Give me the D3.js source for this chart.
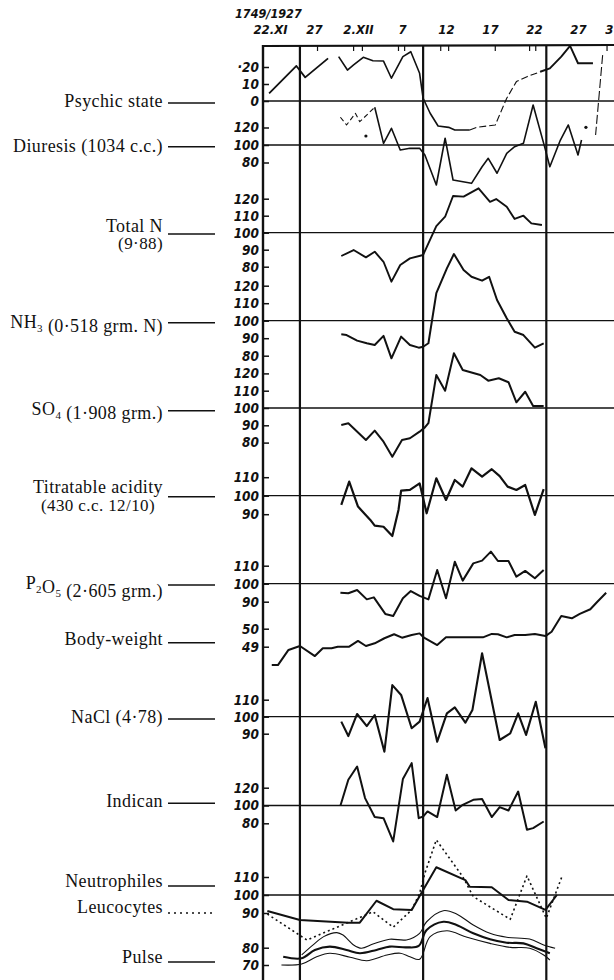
<!DOCTYPE html>
<html>
<head>
<meta charset="utf-8">
<script src="https://cdnjs.cloudflare.com/ajax/libs/d3/7.8.5/d3.min.js"></script>
<style>
  body { margin: 0; background: #fff; }
  svg { display: block; }
</style>
</head>
<body>
<div id="chart"></div>
<script>
// dates along the top (days counted from 22.XI.1927)
const caseTitle = '1749/1927';
const dateTicks = ['22.XI', '27', '2.XII', '7', '12', '17', '22', '27', '3'];
const dateTickDays = [0, 5, 10, 15, 20, 25, 30, 35, 38.5];
const markDays = [3.4, 17.4, 31.4];
const topTickDays = [5.4, 9.5, 10.5, 14.6, 15.3, 19.4, 20.3, 25.6, 29.5, 30.2, 38.3];

// row labels, "_n" = subscript
const rowLabels = [
  ['Psychic state'], ['Diuresis (1034 c.c.)'], ['Total N', '(9·88)'], ['NH_3 (0·518 grm. N)'],
  ['SO_4 (1·908 grm.)'], ['Titratable acidity', '(430 c.c. 12/10)'], ['P_2O_5 (2·605 grm.)'],
  ['Body-weight'], ['NaCl (4·78)'], ['Indican'], ['Neutrophiles'], ['Leucocytes'], ['Pulse']
];

// left tick values for each row
const psychicTicks = [20, 10, 0];
const diuresisTicks = [120, 100, 80];
const totalNTicks = [120, 110, 100, 90, 80];
const nh3Ticks = [120, 110, 100, 90, 80];
const so4Ticks = [120, 110, 100, 90, 80];
const acidityTicks = [110, 100, 90];
const p2o5Ticks = [110, 100, 90];
const weightTicks = [50, 49];
const naclTicks = [110, 100, 90];
const indicanTicks = [120, 100, 80];
const bloodTicks = [110, 100, 90];
const pulseTicks = [80, 70];

// series: [day, value]
const psychicA = [[-0.1, 4.5], [3.0, 20.6], [4.0, 13.9], [6.6, 25.1]];
const psychicB = [[7.8, 26.1], [8.8, 18.2], [9.5, 21.2], [10.6, 25.7], [11.7, 23.7], [12.9, 23.5], [13.8, 13.4],
  [15.1, 26.1], [16.0, 29], [17.0, 16.3], [17.4, 1.6], [18.2, -7.2], [19.1, -14.7], [20.3, -15.5], [21.0, -17.1], [22.7, -17.1]];
const psychicDash = [[22.7, -17.1], [23.5, -15.5], [25.6, -14.1], [26.9, 1.6], [28.0, 11.4], [29.2, 14.3], [30.7, 17.2]];
const psychicC = [[30.7, 17.2], [31.8, 19.2], [33.1, 26.1], [34.1, 32.4], [35.0, 22.2], [36.7, 22.2]];
const psychicDrop = [[37.8, 27], [37.0, -20]];

const diuresisA = [[8.0, 131.7], [8.7, 122.9], [9.7, 136.2], [10.2, 126.6], [11.9, 143.1]];
const diuresisB = [[11.9, 143.1], [12.9, 101.9], [13.4, 111.4], [13.8, 119.1], [14.8, 94.3], [15.9, 96.2], [17.0, 96.2],
  [17.6, 88.6], [18.9, 54.3], [19.9, 107.7], [20.8, 60], [22.9, 56.2], [24.1, 75.2], [24.8, 84.8], [25.8, 67.7],
  [26.9, 90.5], [27.8, 98.1], [28.8, 101.9], [29.9, 145.7], [31.2, 98.1], [31.8, 75.2], [33.0, 105.7], [33.9, 122.9],
  [35.0, 88.6], [35.4, 105.7]];
const diuresisDots = [[10.9, 110.3], [35.9, 120.2]];

const totalN = [[8.1, 86.3], [9.5, 89.8], [10.9, 85.5], [11.9, 88.8], [12.9, 82.9], [13.8, 71.2], [14.8, 81.0],
  [15.9, 84.9], [17.4, 86.9], [18.9, 103.9], [19.9, 109.4], [20.8, 121.6], [22.0, 121.2], [23.7, 126.1], [25.0, 118.2],
  [25.7, 119.8], [26.9, 115.3], [27.8, 108.1], [28.8, 110], [29.7, 105.5], [30.9, 104.5]];

const nh3 = [[8.1, 92.2], [8.7, 91.8], [9.9, 88.6], [11.0, 87.1], [11.9, 86.1], [12.9, 91.3], [13.8, 78.5], [14.9, 90.9],
  [15.9, 86.1], [16.9, 84.6], [17.4, 85.1], [18.0, 87.1], [18.9, 115.7], [20.1, 129.9], [20.9, 138.1], [22.0, 129],
  [22.9, 125.1], [24.1, 122.9], [24.9, 125.1], [25.8, 111.8], [26.9, 101.4], [27.8, 93.7], [28.8, 91.8], [30.1, 84.6], [31.1, 87.1]];

const so4 = [[8.1, 90.2], [8.9, 91.2], [10.9, 81.5], [11.9, 86.9], [12.9, 80.5], [13.9, 71.8], [15.0, 81.5], [15.9, 82.5],
  [17.0, 86.3], [17.6, 88.8], [18.0, 91.2], [18.9, 119.1], [19.9, 110], [20.9, 131.6], [21.9, 122], [23.9, 119.1],
  [24.8, 115.8], [26.0, 117.2], [27.1, 114.9], [28.0, 103.3], [29.0, 109.4], [29.9, 101.2], [31.1, 101.2]];

const acidity = [[8.1, 95], [9.0, 107.6], [10.0, 94.1], [11.4, 86.9], [11.9, 83.8], [12.9, 83.2], [13.9, 78.2], [14.6, 92.3],
  [14.9, 102.7], [15.9, 103.1], [17.0, 106.7], [17.8, 90.5], [18.9, 109.4], [20.0, 97.7], [21.0, 108.5], [21.9, 104.9],
  [22.9, 114.8], [24.1, 110.3], [25.2, 114.3], [26.1, 110.6], [27.0, 104.9], [28.0, 103.1], [29.0, 105.8], [30.1, 89.6], [31.1, 103.5]];

const p2o5 = [[8.0, 95], [8.9, 94.7], [9.9, 96.5], [11.0, 91.3], [11.8, 92.4], [13.1, 83.2], [14.0, 82.1], [15.1, 91.9],
  [16.0, 95.9], [17.0, 93.2], [18.0, 91.3], [19.0, 107.6], [20.0, 91.9], [21.0, 112.2], [21.9, 101.7], [23.1, 111.3],
  [24.1, 112.8], [25.1, 117.8], [25.9, 112.6], [27.1, 112.6], [28.0, 103.9], [29.0, 107.1], [30.1, 103], [31.1, 107.6]];

const bodyWeight = [[0.2, 47.98], [0.9, 47.98], [2.1, 48.82], [3.4, 49.04], [5.1, 48.48], [6.0, 48.91], [7.0, 48.91],
  [7.7, 49.0], [9.0, 49.0], [10.0, 49.32], [10.9, 49.04], [11.9, 49.19], [13.0, 49.47], [14.1, 49.69], [15.0, 49.5],
  [16.1, 49.65], [17.0, 49.74], [17.5, 49.5], [19.0, 49.09], [20.0, 49.52], [22.0, 49.52], [24.2, 49.52], [25.2, 49.71],
  [25.9, 49.69], [26.9, 49.52], [27.8, 49.65], [29.0, 49.65], [30.1, 49.71], [31.3, 49.59], [32.0, 49.83], [33.1, 50.71],
  [34.3, 50.58], [35.2, 50.82], [36.4, 51.08], [37.2, 51.5], [38.2, 52.0]];

const nacl = [[8.1, 97.1], [8.9, 88.6], [9.9, 101.6], [11.0, 94.5], [11.9, 101], [13.0, 79.4], [13.9, 118.6], [14.9, 112.8],
  [16.1, 93.2], [17.0, 97.1], [17.9, 111], [19.0, 85.3], [20.1, 102], [21.0, 105.5], [22.2, 96.5], [23.0, 103.9],
  [24.1, 137.3], [26.1, 86.3], [27.3, 90.2], [28.2, 102], [29.1, 89.3], [30.2, 108.8], [31.3, 81.4]];

const indican = [[8.0, 99.7], [8.9, 128.9], [9.9, 143.8], [10.8, 108.3], [11.9, 87], [12.9, 85.8], [14.0, 59.6],
  [15.1, 129.7], [16.1, 147.6], [16.9, 85.8], [17.4, 87.6], [17.9, 93.3], [19.0, 87], [20.1, 134.5], [21.1, 94.4],
  [21.9, 100.8], [23.1, 106.4], [24.1, 107.2], [25.2, 87], [26.1, 98.2], [27.1, 94.4], [28.2, 115.7], [29.2, 72.7],
  [29.9, 74.6], [31.1, 82]];

const neutrophiles = [[-0.3, 91.1], [3.4, 86.1], [8.9, 84.6], [10.2, 84.6], [12.1, 96.8], [14.0, 92.1], [16.1, 91.7],
  [17.4, 102.8], [18.9, 115.4], [22.2, 108.3], [22.7, 104.6], [25.2, 104.3], [27.1, 97.2], [29.2, 96.3], [31.3, 91.7], [32.6, 100]];

const leucocytes = [[-0.3, 89.4], [4.2, 75], [10.4, 87.9], [11.7, 90.7], [14.0, 82.1], [16.1, 91.7], [17.0, 100.9],
  [17.6, 112.1], [18.9, 130.6], [21.9, 110.2], [23.1, 99.1], [27.3, 86.5], [29.2, 110.6], [31.4, 87.1], [33.2, 110.6]];

const pulseUpper = [[3.6, 75.8], [4.9, 81.6], [6.1, 86.4], [7.6, 88.7], [8.3, 87.3], [9.5, 81.6], [10.4, 79.7], [11.7, 82.1],
  [13.6, 84.9], [15.5, 84.5], [17.0, 88.3], [17.8, 95], [19.7, 101.4], [21.2, 99.5], [23.1, 93.1], [25.0, 88.3],
  [26.9, 86], [29.5, 85], [31.1, 81.6], [32.4, 79.7]];
const pulseMiddle = [[1.5, 74.8], [3.6, 73.9], [5.1, 78.7], [6.8, 80.6], [8.7, 78.7], [10.2, 76.8], [12.1, 78.7],
  [13.6, 80.6], [15.5, 80.2], [16.9, 81], [17.8, 90.2], [19.7, 95], [21.2, 93.1], [23.1, 88.3], [25.0, 84.9],
  [26.9, 82.9], [28.8, 82.5], [30.3, 79.7], [31.8, 76.8]];
const pulseLower = [[1.3, 70], [3.6, 70.6], [5.3, 74.8], [6.8, 76.8], [9.1, 74.5], [11.0, 72.5], [13.3, 75.8],
  [14.8, 76.8], [15.9, 74.8], [17.0, 73.3], [18.2, 86.4], [20.1, 89.8], [22.4, 86], [25.0, 82.5], [27.3, 80.2],
  [29.5, 79.7], [31.1, 75.8], [31.8, 72.9]];

// ---- layout ----
const w = 614;
const h = 980;
const leftX = 263;
const topY = 46;

const svg = d3.select('#chart')
  .append('svg')
  .attr('width', w)
  .attr('height', h);

const x = d3.scaleLinear().domain([0, 39]).range([270, 613.2]);

// one vertical scale per row
const yPsych = d3.scaleLinear().domain([0, 20]).range([101, 67]);
const yDiur = d3.scaleLinear().domain([80, 120]).range([162.5, 127.5]);
const yTotN = d3.scaleLinear().domain([80, 120]).range([266.7, 198.7]);
const yNh3 = d3.scaleLinear().domain([80, 120]).range([355.7, 285.7]);
const ySo4 = d3.scaleLinear().domain([80, 120]).range([442.6, 373.4]);
const yAcid = d3.scaleLinear().domain([90, 110]).range([514.2, 477.2]);
const yP2o5 = d3.scaleLinear().domain([90, 110]).range([601.7, 565.7]);
const yBw = d3.scaleLinear().domain([49, 50]).range([646.7, 628.7]);
const yNacl = d3.scaleLinear().domain([90, 110]).range([733.7, 699.7]);
const yInd = d3.scaleLinear().domain([80, 120]).range([823.3, 787.7]);
const yBlood = d3.scaleLinear().domain([90, 110]).range([913, 877]);
const yPulse = d3.scaleLinear().domain([70, 80]).range([965, 947.7]);

const rows = [
  { y: yPsych, ticks: psychicTicks, ref: 0, fmt: d => d === 20 ? '·20' : d },
  { y: yDiur, ticks: diuresisTicks, ref: 100 },
  { y: yTotN, ticks: totalNTicks, ref: 100 },
  { y: yNh3, ticks: nh3Ticks, ref: 100 },
  { y: ySo4, ticks: so4Ticks, ref: 100 },
  { y: yAcid, ticks: acidityTicks, ref: 100 },
  { y: yP2o5, ticks: p2o5Ticks, ref: 100 },
  { y: yBw, ticks: weightTicks, ref: null },
  { y: yNacl, ticks: naclTicks, ref: 100 },
  { y: yInd, ticks: indicanTicks, ref: 100 },
  { y: yBlood, ticks: bloodTicks, ref: 100 },
  { y: yPulse, ticks: pulseTicks, ref: null }
];

const numFont = '"Liberation Sans Narrow", "DejaVu Sans Condensed", sans-serif';

// reference lines (100 / 0) across the sheet
svg.append('g')
  .selectAll('line')
  .data(rows.filter(r => r.ref !== null))
  .enter()
  .append('line')
  .attr('x1', leftX)
  .attr('x2', w)
  .attr('y1', r => r.y(r.ref))
  .attr('y2', r => r.y(r.ref))
  .attr('stroke', '#111')
  .attr('stroke-width', 1.3);

// left ticks for each row
rows.forEach(r => {
  const axis = d3.axisLeft(r.y)
    .tickValues(r.ticks)
    .tickSizeInner(-6)
    .tickSizeOuter(0)
    .tickPadding(4)
    .tickFormat(r.fmt || (d => d));
  const g = svg.append('g')
    .attr('transform', 'translate(' + leftX + ',0)')
    .call(axis);
  g.select('.domain').remove();
  g.selectAll('.tick line').attr('stroke', '#111').attr('stroke-width', 1.5);
  g.selectAll('.tick text')
    .attr('fill', '#111')
    .style('font-family', numFont)
    .style('font-style', 'italic')
    .style('font-weight', 'bold')
    .style('font-size', '13.5px');
});

// frame: left axis, top border, the three heavy day lines
svg.append('line')
  .attr('x1', leftX).attr('x2', leftX)
  .attr('y1', topY - 1).attr('y2', h)
  .attr('stroke', '#111').attr('stroke-width', 2.4);

svg.append('line')
  .attr('x1', leftX - 1).attr('x2', w)
  .attr('y1', topY).attr('y2', topY - 1)
  .attr('stroke', '#111').attr('stroke-width', 2.2);

svg.append('g')
  .selectAll('line')
  .data(markDays)
  .enter()
  .append('line')
  .attr('x1', d => x(d)).attr('x2', d => x(d))
  .attr('y1', topY).attr('y2', h)
  .attr('stroke', '#111')
  .attr('stroke-width', 2.2);

svg.append('g')
  .selectAll('line')
  .data(topTickDays)
  .enter()
  .append('line')
  .attr('x1', d => x(d)).attr('x2', d => x(d))
  .attr('y1', topY).attr('y2', topY + 5)
  .attr('stroke', '#111')
  .attr('stroke-width', 1.2);

// date labels on top
const xAxis = d3.axisTop(x)
  .tickValues(dateTickDays)
  .tickSize(0)
  .tickPadding(0)
  .tickFormat((d, i) => dateTicks[i]);

const gx = svg.append('g')
  .attr('transform', 'translate(0,34)')
  .call(xAxis);
gx.select('.domain').remove();
gx.selectAll('.tick text')
  .attr('fill', '#111')
  .style('font-family', numFont)
  .style('font-style', 'italic')
  .style('font-weight', 'bold')
  .style('font-size', '13px');

svg.append('text')
  .attr('x', 235)
  .attr('y', 18)
  .attr('fill', '#111')
  .style('font-family', numFont)
  .style('font-style', 'italic')
  .style('font-weight', 'bold')
  .style('font-size', '12.5px')
  .text(caseTitle);

// row labels with leader lines
const leaderY = [103, 146.7, 234, 322.7, 410.7, 496.7, 585, 642.7, 719, 803.3, 886, 913, 962];
const baseY = [106.7, 151.7, 231.5, 328, 415, 493, 589, 645, 723, 806.7, 886.7, 913, 962.7];
const secondRight = { 2: 163, 5: 155 };

rowLabels.forEach((lines, i) => {
  lines.forEach((txt, j) => {
    const t = svg.append('text')
      .attr('x', j === 0 ? 163 : secondRight[i])
      .attr('y', baseY[i] + j * 17.5)
      .attr('text-anchor', 'end')
      .attr('fill', '#111')
      .style('font-family', '"Liberation Serif", "DejaVu Serif", serif')
      .style('font-size', j === 0 ? '18px' : '17px')
      .style('letter-spacing', '0.4px');
    txt.split(/(_\d)/).forEach(part => {
      if (part.startsWith('_')) {
        t.append('tspan').attr('dy', 4).style('font-size', '11px').text(part.slice(1));
        t.append('tspan').attr('dy', -4).text('');
      } else if (part) {
        t.append('tspan').text(part);
      }
    });
  });
  svg.append('line')
    .attr('x1', 168).attr('x2', 215)
    .attr('y1', leaderY[i]).attr('y2', leaderY[i])
    .attr('stroke', '#111')
    .attr('stroke-width', 1.6)
    .attr('stroke-dasharray', i === 11 ? '2,4' : null);
});

// ---- series ----
function drawLine(data, y, width, dash, curve) {
  const line = d3.line()
    .x(d => x(d[0]))
    .y(d => y(d[1]))
    .curve(curve || d3.curveLinear);
  svg.append('path')
    .datum(data)
    .attr('d', line)
    .attr('fill', 'none')
    .attr('stroke', '#111')
    .attr('stroke-width', width)
    .attr('stroke-linejoin', 'round')
    .attr('stroke-dasharray', dash || null);
}

drawLine(psychicA, yPsych, 1.8);
drawLine(psychicB, yPsych, 1.6);
drawLine(psychicDash, yPsych, 1.1, '7,3');
drawLine(psychicC, yPsych, 1.9);
drawLine(psychicDrop, yPsych, 1.1, '9,3');

drawLine(diuresisA, yDiur, 1.1, '5,3');
drawLine(diuresisB, yDiur, 1.6);
svg.append('g')
  .selectAll('circle')
  .data(diuresisDots)
  .enter()
  .append('circle')
  .attr('cx', d => x(d[0]))
  .attr('cy', d => yDiur(d[1]))
  .attr('r', 1.6)
  .attr('fill', '#111');

drawLine(totalN, yTotN, 1.9);
drawLine(nh3, yNh3, 2);
drawLine(so4, ySo4, 2);
drawLine(acidity, yAcid, 2.2);
drawLine(p2o5, yP2o5, 2);
drawLine(bodyWeight, yBw, 2);
drawLine(nacl, yNacl, 2.1);
drawLine(indican, yInd, 2);

drawLine(neutrophiles, yBlood, 2);
drawLine(leucocytes, yBlood, 1.6, '2,3');

drawLine(pulseUpper, yPulse, 1.1, null, d3.curveCatmullRom);
drawLine(pulseMiddle, yPulse, 2.1, null, d3.curveCatmullRom);
drawLine(pulseLower, yPulse, 1.1, null, d3.curveCatmullRom);
</script>
</body>
</html>
